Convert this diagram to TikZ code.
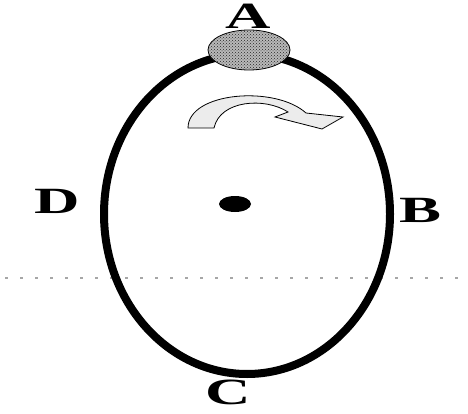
\documentclass[tikz,border=0pt]{standalone}
\usepackage{fontspec}
\setmainfont{Liberation Serif}
\usepackage{tikz}
\usetikzlibrary{patterns, shapes.geometric, positioning, calc}

\begin{document}
\begin{tikzpicture}[x=1pt, y=-1pt, every node/.style={outer sep=0pt},
    lbl/.style={font=\fontsize{37}{37}\selectfont\bfseries, inner sep=0pt, xscale=1.7}]
    \useasboundingbox (0,0) rectangle (468,414);

    % Horizontal reference line
    \draw[gray!70, line width=1.5pt, dash pattern=on 3pt off 12pt] (5,278) -- (468,278);

    % Orbit
    \node[ellipse, draw, line width=8pt, minimum width=286pt, minimum height=320pt, inner sep=0pt] (orbit) at (247,214) {};

    % Centre
    \node[ellipse, fill, minimum width=32pt, minimum height=16pt, inner sep=0pt] (centre) at (235,204) {};

    % Ball at A
    \node[ellipse, draw, thick, fill=gray!55, minimum width=82pt, minimum height=40pt, inner sep=0pt] (ball) at (249,50) {};
    \fill[pattern=crosshatch dots, pattern color=black!85] (ball.center) ellipse (40pt and 19pt);

    % Direction arrow
    \draw[thick, fill=gray!15] (188,128) .. controls (188,92) and (275,85) .. (306,113)
        -- (343,117) -- (322,129) -- (275,117) -- (288,112)
        .. controls (265,97) and (220,100) .. (214,128) -- cycle;

    % Labels
    \node[lbl] (A) at (248,16) {A};
    \node[lbl] (B) at (420,210) {B};
    \node[lbl] (C) at (228,392) {C};
    \node[lbl] (D) at (57,201) {D};
\end{tikzpicture}
\end{document}
